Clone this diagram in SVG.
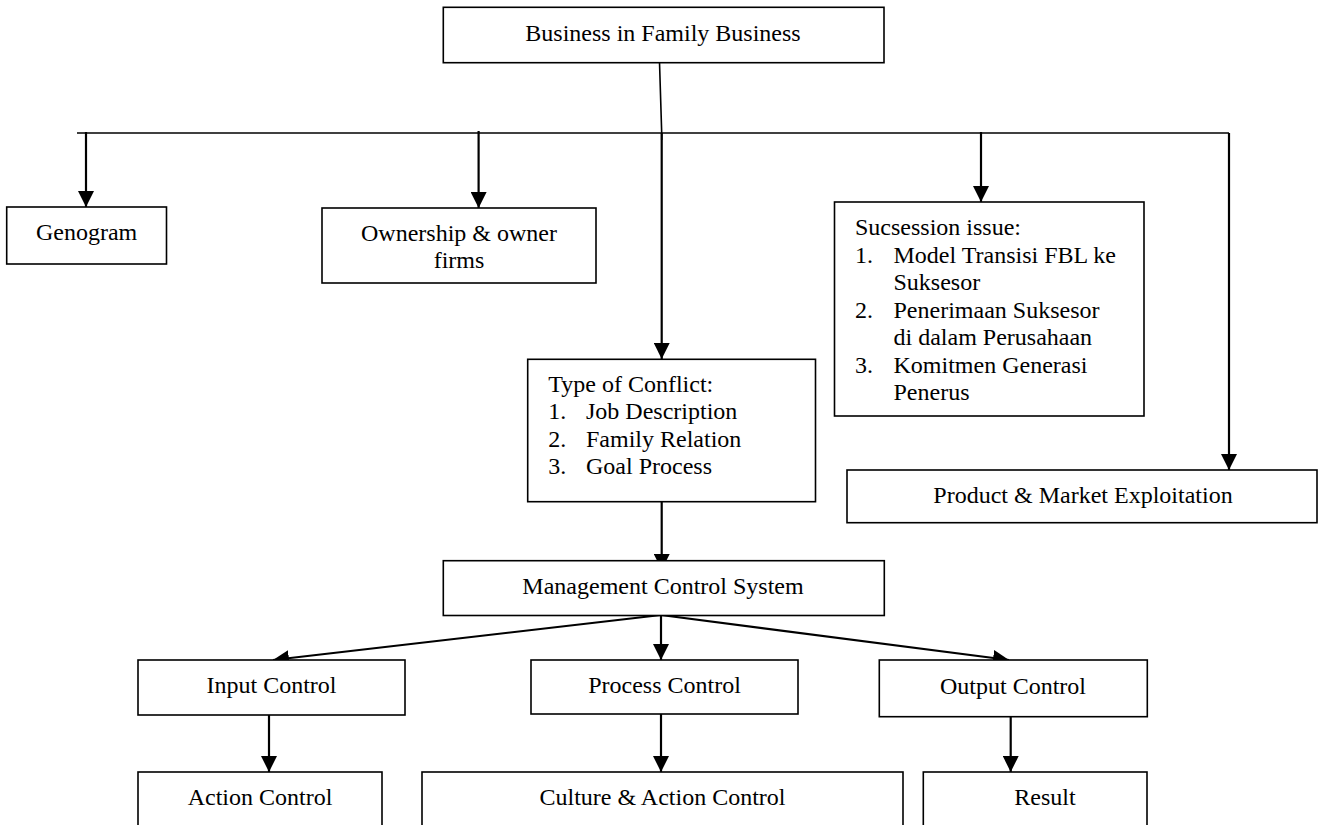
<svg xmlns="http://www.w3.org/2000/svg" width="1322" height="825" viewBox="0 0 1322 825">
<style>
.box{fill:#fff;stroke:#000;stroke-width:1.6}
.t{font-family:"Liberation Serif","Times New Roman",serif;font-size:24px;fill:#000}
.c{text-anchor:middle}
.ln{stroke:#000;stroke-width:1.6;fill:none}
.ar{stroke:#000;stroke-width:2.2;fill:none;marker-end:url(#ah)}
</style>
<defs>
<marker id="ah" viewBox="0 0 16 16" refX="16" refY="8" markerWidth="16" markerHeight="16" markerUnits="userSpaceOnUse" orient="auto">
<path d="M0,0 L16,8 L0,16 Z" fill="#000"/>
</marker>
</defs>
<g id="connectors">
<polyline class="ln" points="659.5,62 661.7,133 661.7,140"/>
<line class="ln" x1="77" y1="133" x2="1229" y2="133"/>
<line class="ar" x1="86" y1="132" x2="86" y2="207"/>
<line class="ar" x1="478.6" y1="131" x2="478.6" y2="208"/>
<line class="ar" x1="661.7" y1="133" x2="661.7" y2="359"/>
<line class="ar" x1="981" y1="132" x2="981" y2="202"/>
<polyline class="ar" points="1229,133 1229,470"/>
<line class="ar" x1="661.7" y1="502" x2="661.7" y2="570"/>
<line class="ar" x1="661" y1="615" x2="273" y2="660"/>
<line class="ar" x1="661" y1="615" x2="661" y2="660"/>
<line class="ar" x1="661" y1="615" x2="1009" y2="660"/>
<line class="ar" x1="269" y1="715" x2="269" y2="772"/>
<line class="ar" x1="661" y1="714" x2="661" y2="772"/>
<line class="ar" x1="1010.7" y1="717" x2="1010.7" y2="772"/>
</g>
<g id="n-top"><rect class="box" x="443.3" y="7.3" width="440.7" height="55.4"/><text class="t c" x="663" y="41">Business in Family Business</text></g>
<g id="n-genogram"><rect class="box" x="6.7" y="207" width="159.8" height="57"/><text class="t c" x="86.6" y="240">Genogram</text></g>
<g id="n-ownership"><rect class="box" x="322" y="208" width="274" height="75"/><text class="t c" x="459" y="241">Ownership &amp; owner</text><text class="t c" x="459" y="268">firms</text></g>
<g id="n-succession"><rect class="box" x="834.5" y="202" width="309.5" height="214"/>
<text class="t" x="855" y="235">Sucsession issue:</text>
<text class="t" x="855" y="262.5">1.</text><text class="t" x="893.5" y="262.5">Model Transisi FBL ke</text>
<text class="t" x="893.5" y="290">Suksesor</text>
<text class="t" x="855" y="317.5">2.</text><text class="t" x="893.5" y="317.5">Penerimaan Suksesor</text>
<text class="t" x="893.5" y="345">di dalam Perusahaan</text>
<text class="t" x="855" y="372.5">3.</text><text class="t" x="893.5" y="372.5">Komitmen Generasi</text>
<text class="t" x="893.5" y="400">Penerus</text>
</g>
<g id="n-conflict"><rect class="box" x="527.7" y="359.3" width="287.8" height="142.4"/>
<text class="t" x="548.3" y="391.7">Type of Conflict:</text>
<text class="t" x="548.3" y="419.3">1.</text><text class="t" x="586" y="419.3">Job Description</text>
<text class="t" x="548.3" y="446.7">2.</text><text class="t" x="586" y="446.7">Family Relation</text>
<text class="t" x="548.3" y="474.3">3.</text><text class="t" x="586" y="474.3">Goal Process</text>
</g>
<g id="n-product"><rect class="box" x="847" y="470" width="470" height="52.7"/><text class="t c" x="1083" y="503">Product &amp; Market Exploitation</text></g>
<g id="n-mcs"><rect class="box" x="443.3" y="560.7" width="441" height="54.8"/><text class="t c" x="663" y="594">Management Control System</text></g>
<g id="n-input"><rect class="box" x="138" y="660" width="267" height="55"/><text class="t c" x="271.5" y="693">Input Control</text></g>
<g id="n-process"><rect class="box" x="531" y="660" width="267" height="54"/><text class="t c" x="664.5" y="693">Process Control</text></g>
<g id="n-output"><rect class="box" x="879.3" y="660" width="268" height="56.7"/><text class="t c" x="1013" y="694">Output Control</text></g>
<g id="n-action"><rect class="box" x="138" y="772" width="244" height="80"/><text class="t c" x="260" y="805">Action Control</text></g>
<g id="n-culture"><rect class="box" x="422" y="772" width="481" height="80"/><text class="t c" x="662.5" y="805">Culture &amp; Action Control</text></g>
<g id="n-result"><rect class="box" x="923.3" y="772" width="223.7" height="80"/><text class="t c" x="1045" y="805">Result</text></g>
</svg>
